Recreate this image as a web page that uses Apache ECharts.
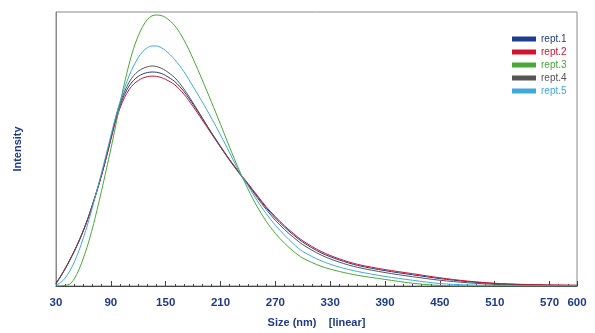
<!DOCTYPE html>
<html>
<head>
<meta charset="utf-8">
<script src="https://cdn.jsdelivr.net/npm/echarts@6/dist/echarts.min.js"></script>
<style>
  html, body { margin: 0; padding: 0; background: #fff; }
  #chart { width: 595px; height: 333px; }
</style>
</head>
<body>
<div id="chart"></div>
<script>
// particle size (nm), shared by all runs
const sizes = [30, 35, 40, 45, 50, 55, 60, 65, 70, 75, 80, 85, 90, 95, 100, 105, 110, 115, 120, 125, 130, 135, 140, 145, 150,
  160, 170, 180, 190, 200, 210, 220, 230, 240, 250, 260, 270, 280, 290, 300,
  320, 340, 360, 390, 420, 450, 480, 510, 540, 570, 600]

const rept1 = [0.9, 3.5, 6.3, 9.4, 12.7, 16.3, 20.3, 24.7, 29.7, 35.0, 40.7, 47.0, 53.7, 60.4, 65.8, 69.9, 73.0, 75.1, 76.5, 77.4, 77.9, 78.1, 78.0, 77.6, 76.8,
  74.6, 71.0, 66.3, 61.2, 56.0, 51.0, 46.1, 41.6, 37.2, 32.8, 28.5, 24.8, 21.5, 18.6, 16.0,
  12.1, 9.5, 7.5, 5.6, 4.1, 2.7, 1.6, 0.9, 0.5, 0.3, 0.2]
const rept2 = [1.0, 3.6, 6.4, 9.5, 12.8, 16.4, 20.4, 24.8, 29.8, 35.0, 40.6, 46.8, 53.4, 59.8, 64.9, 68.8, 71.7, 73.7, 75.0, 75.9, 76.4, 76.6, 76.5, 76.1, 75.4,
  73.4, 70.0, 65.5, 60.6, 55.6, 50.7, 46.0, 41.6, 37.4, 33.1, 28.9, 25.3, 22.0, 19.1, 16.5,
  12.6, 9.9, 7.9, 6.0, 4.5, 3.0, 1.8, 1.0, 0.6, 0.4, 0.3]
const rept3 = [0.0, 0.05, 0.2, 0.7, 2.6, 5.9, 10.2, 15.3, 21.2, 27.9, 35.0, 42.4, 50.0, 58.0, 66.5, 74.2, 81.0, 86.8, 91.3, 94.8, 97.3, 98.6, 98.9, 98.7, 98.0,
  95.0, 89.8, 82.9, 75.2, 67.2, 59.0, 50.6, 42.6, 35.4, 29.0, 23.6, 19.2, 15.6, 12.6, 10.2,
  7.2, 5.3, 3.9, 2.4, 1.0, 0.2, 0.0, 0.0, 0.0, 0.0, 0.0]
const rept4 = [0.8, 3.4, 6.2, 9.3, 12.6, 16.2, 20.2, 24.6, 29.6, 35.0, 40.8, 47.2, 54.0, 61.0, 66.7, 71.0, 74.4, 76.8, 78.4, 79.4, 80.0, 80.3, 80.1, 79.5, 78.6,
  76.0, 71.9, 66.8, 61.4, 55.9, 50.7, 45.8, 41.3, 36.9, 32.3, 27.9, 24.0, 20.6, 17.7, 15.1,
  11.3, 8.7, 6.8, 4.9, 3.4, 2.1, 1.2, 0.6, 0.3, 0.2, 0.1]
const rept5 = [0.4, 1.2, 2.9, 5.4, 8.7, 12.8, 17.6, 23.0, 28.9, 35.2, 41.6, 48.2, 54.9, 61.4, 67.2, 72.3, 76.7, 80.4, 83.4, 85.6, 87.0, 87.6, 87.6, 87.0, 85.9,
  82.6, 78.2, 72.8, 67.2, 61.3, 55.1, 48.6, 42.0, 36.6, 31.2, 26.4, 22.2, 18.6, 15.3, 12.6,
  9.2, 6.9, 5.3, 3.5, 2.1, 0.9, 0.4, 0.2, 0.1, 0.1, 0.1]

const names = ['rept.1', 'rept.2', 'rept.3', 'rept.4', 'rept.5']
const colors = ['#1f3d8f', '#d3122f', '#4aa83a', '#555555', '#3fa9df']
const values = [rept1, rept2, rept3, rept4, rept5]

const navy = '#1f3a8a'

const chart = echarts.init(document.getElementById('chart'))

chart.setOption({
  backgroundColor: '#fff',
  animation: false,
  color: colors,
  grid: { left: 56, right: 18, top: 12, bottom: 47, show: true, borderColor: '#8a8a8a', borderWidth: 1 },
  legend: {
    orient: 'vertical',
    left: 507,
    top: 29,
    icon: 'rect',
    itemWidth: 24,
    itemHeight: 5,
    itemGap: 3,
    data: names.map((n, i) => ({ name: n, textStyle: { color: colors[i] } })),
    textStyle: { fontFamily: 'Liberation Sans', fontSize: 10 },
  },
  xAxis: {
    type: 'value',
    min: 30,
    max: 600,
    interval: 60,
    name: 'Size (nm)    [linear]',
    nameLocation: 'middle',
    nameGap: 31,
    nameTextStyle: { color: navy, fontFamily: 'Liberation Sans', fontWeight: 'bold', fontSize: 11 },
    axisLine: { lineStyle: { color: '#444', width: 1 } },
    axisTick: { inside: true, length: 5, lineStyle: { color: '#444' } },
    minorTick: { show: true, splitNumber: 6, length: 2, lineStyle: { color: '#444' } },
    splitLine: { show: false },
    axisLabel: { color: navy, fontFamily: 'Liberation Sans', fontWeight: 'bold', fontSize: 11.5, margin: 11 },
  },
  yAxis: {
    type: 'value',
    min: 0,
    max: 100,
    name: 'Intensity',
    nameLocation: 'middle',
    nameGap: 33,
    nameTextStyle: { color: navy, fontFamily: 'Liberation Sans', fontWeight: 'bold', fontSize: 11 },
    axisLine: { show: true, lineStyle: { color: '#8a8a8a' } },
    axisTick: { show: false },
    axisLabel: { show: false },
    splitLine: { show: false },
  },
  series: names.map((n, i) => ({
    name: n,
    type: 'line',
    smooth: 0.3,
    symbol: 'none',
    data: sizes.map((s, j) => [s, values[i][j]]),
    lineStyle: { color: colors[i], width: 1 },
    itemStyle: { color: colors[i] },
  })),
})
</script>
</body>
</html>
